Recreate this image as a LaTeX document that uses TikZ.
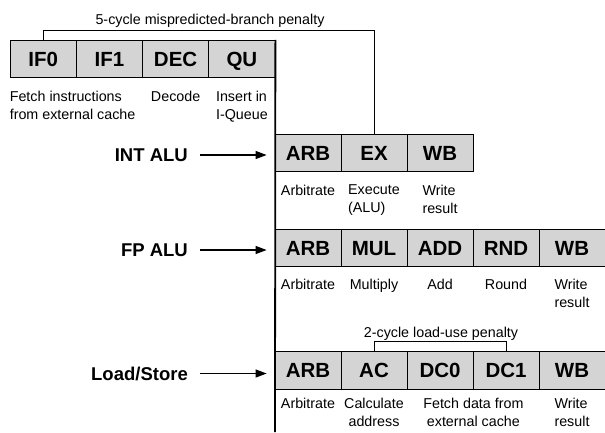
\documentclass[tikz,border=0pt]{standalone}
\usepackage{fontspec}
\setmainfont{Liberation Sans}
\usetikzlibrary{arrows.meta}

\begin{document}
\begin{tikzpicture}[x=1pt,y=-1pt,
    stage/.style={draw=black,fill=black!17,line width=0.8pt,minimum width=66pt,
      minimum height=37.5pt,inner sep=0pt,text height=14.7pt,text depth=0pt,
      font=\fontsize{20.5}{24}\selectfont\bfseries},
    desc/.style={anchor=north,align=left,inner sep=0pt,font=\fontsize{14.3}{18.5}\selectfont},
    unit/.style={anchor=east,inner xsep=12pt,text height=13.3pt,text depth=0pt,
      font=\fontsize{18.5}{22}\selectfont\bfseries},
    feed/.style={-{Triangle[length=11pt,width=8pt]},line width=1.2pt,shorten >=8pt},
    penalty/.style={line width=0.8pt}]

  \useasboundingbox (0,0) rectangle (605,432);

  % Row centres and the issue line
  \def\ytop{59}
  \def\yint{153}
  \def\yfp{248}
  \def\yls{370.5}
  \def\xsplit{275}

  % -- Front end: fetch, decode, queue --
  \foreach \lbl [count=\i] in {IF0,IF1,DEC,QU}
    \node[stage,minimum width=66.25pt] (fe\i) at ({10+66.25*(\i-0.5)},\ytop) {\lbl};

  % -- The three execution pipes --
  \foreach \lbl [count=\i] in {ARB,EX,WB}
    \node[stage] (int\i) at ({\xsplit+66*(\i-0.5)},\yint) {\lbl};
  \foreach \lbl [count=\i] in {ARB,MUL,ADD,RND,WB}
    \node[stage] (fp\i) at ({\xsplit+66*(\i-0.5)},\yfp) {\lbl};
  \foreach \lbl [count=\i] in {ARB,AC,DC0,DC1,WB}
    \node[stage] (ls\i) at ({\xsplit+66*(\i-0.5)},\yls) {\lbl};

  % -- Issue line between front end and pipes --
  \coordinate (split-end) at (\xsplit,432);
  \draw[line width=1.8pt] (fe4.north east) -- (split-end);

  % -- Stage descriptions --
  \node[desc,anchor=north west] (d-fe1) at ([yshift=-12.3pt]fe1.south west) {Fetch instructions\\from external cache};
  \node[desc] (d-fe3) at ([yshift=-12.3pt]fe3.south) {Decode};
  \node[desc] (d-fe4) at ([yshift=-12.3pt]fe4.south) {Insert in\\I-Queue};

  \node[desc] (d-int1) at ([yshift=-12.3pt]int1.south) {Arbitrate};
  \node[desc] (d-int2) at ([yshift=-12.3pt]int2.south) {Execute\\(ALU)};
  \node[desc] (d-int3) at ([yshift=-12.3pt]int3.south) {Write\\result};

  \node[desc] (d-fp1) at ([yshift=-11.5pt]fp1.south) {Arbitrate};
  \node[desc] (d-fp2) at ([yshift=-11.5pt]fp2.south) {Multiply};
  \node[desc] (d-fp3) at ([yshift=-11.5pt]fp3.south) {Add};
  \node[desc] (d-fp4) at ([yshift=-11.5pt]fp4.south) {Round};
  \node[desc] (d-fp5) at ([yshift=-11.5pt]fp5.south) {Write\\result};

  \node[desc] (d-ls1) at ([yshift=-7.8pt]ls1.south) {Arbitrate};
  \node[desc,align=center] (d-ls2) at ([yshift=-7.8pt]ls2.south) {Calculate\\address};
  \node[desc,align=center] (d-ls3) at ([yshift=-7.8pt]ls3.south east) {Fetch data from\\external cache};
  \node[desc] (d-ls5) at ([yshift=-7.8pt]ls5.south) {Write\\result};

  % -- Pipe names with feed arrows --
  \node[unit] (u-int) at (200,155) {INT ALU};
  \node[unit] (u-fp) at (200,250) {FP ALU};
  \node[unit] (u-ls) at (200,373.5) {Load/Store};
  \draw[feed] (u-int) -- (u-int -| int1.west);
  \draw[feed] (u-fp) -- (u-fp -| fp1.west);
  \draw[feed] (u-ls) -- (u-ls -| ls1.west);

  % -- Penalty brackets --
  \draw[penalty] (fe1.north) -- ++(0,-9.3) -| (int2.north);
  \node[anchor=base,font=\fontsize{14.3}{17}\selectfont] (pen-branch) at (210,24) {5-cycle mispredicted-branch penalty};
  \draw[penalty] (ls2.north) -- ++(0,-9.8) -| (ls4.north);
  \node[anchor=base,font=\fontsize{14.3}{17}\selectfont] (pen-load) at (441,337) {2-cycle load-use penalty};

\end{tikzpicture}
\end{document}
